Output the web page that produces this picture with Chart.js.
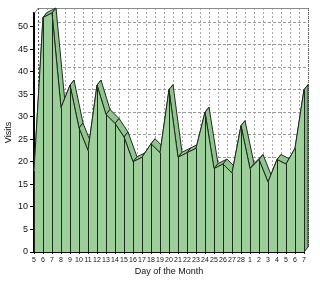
<!DOCTYPE html>
<html>
<head>
<meta charset="utf-8">
<script src="https://cdn.jsdelivr.net/npm/chart.js@4.4.1/dist/chart.umd.min.js"></script>
<style>
  html, body { margin: 0; padding: 0; background: #ffffff; }
  #wrap { width: 320px; height: 284px; }
</style>
</head>
<body>
<div id="wrap"><canvas id="c" width="320" height="284"></canvas></div>
<script>
const categories = ['5','6','7','8','9','10','11','12','13','14','15','16','17','18','19','20','21','22','23','24','25','26','27','28','1','2','3','4','5','6','7'];
const visits = [18, 52, 53, 32, 37, 27.5, 22.5, 37, 30.5, 28.5, 25.5, 20, 21, 24, 22, 36, 21, 22, 23, 31, 18.5, 19.5, 17.5, 28, 18.5, 20.5, 15.5, 20.5, 19.5, 23, 36];
const yTicks = [0, 5, 10, 15, 20, 25, 30, 35, 40, 45, 50];
const yMax = 53;
const xTitle = 'Day of the Month';
const yTitle = 'Visits';

const DX = 4, DY = -5;
const FRONT = '#9dcf9b';
const TOP = '#91c48f';
const EDGE = '#1f2a1f';

const depthPlugin = {
  id: 'depth3d',
  beforeDatasetsDraw(chart) {
    const ctx = chart.ctx;
    const xs = chart.scales.x, ys = chart.scales.y;
    const ca = chart.chartArea;
    const bl = ca.left + DX, br = xs.getPixelForValue(categories.length - 1) + DX;
    const bt = ca.top + DY, bb = ca.bottom + DY;
    ctx.save();
    ctx.lineWidth = 1;
    ctx.strokeStyle = '#a8a8a8';
    ctx.setLineDash([2, 2]);
    for (let i = 1; i < categories.length; i++) {
      const px = Math.round(xs.getPixelForValue(i) + DX) + 0.5;
      ctx.beginPath(); ctx.moveTo(px, bt); ctx.lineTo(px, bb); ctx.stroke();
    }
    ctx.setLineDash([3, 2]);
    ctx.strokeStyle = '#9a9a9a';
    yTicks.forEach(v => {
      if (v === 0) return;
      const py = Math.round(ys.getPixelForValue(v) + DY) + 0.5;
      ctx.beginPath(); ctx.moveTo(bl, py); ctx.lineTo(br, py); ctx.stroke();
    });
    ctx.setLineDash([]);
    ctx.strokeStyle = '#8a8a8a';
    ctx.beginPath(); ctx.moveTo(bl, bt + 0.5); ctx.lineTo(br, bt + 0.5); ctx.stroke();
    ctx.beginPath(); ctx.moveTo(ca.left + 0.5, ca.top); ctx.lineTo(bl + 0.5, bt); ctx.stroke();
    ctx.strokeStyle = '#555';
    ctx.setLineDash([1, 1]);
    ctx.beginPath(); ctx.moveTo(Math.round(br) + 0.5, bt); ctx.lineTo(Math.round(br) + 0.5, bb); ctx.stroke();
    ctx.setLineDash([2, 2]);
    ctx.beginPath(); ctx.moveTo(bl + 0.5, bt); ctx.lineTo(bl + 0.5, bb); ctx.stroke();
    ctx.setLineDash([]);

    const pts = visits.map((v, i) => [xs.getPixelForValue(i), ys.getPixelForValue(v)]);
    ctx.fillStyle = TOP;
    ctx.strokeStyle = EDGE;
    ctx.lineWidth = 1;
    for (let i = 0; i < pts.length - 1; i++) {
      const a = pts[i], b = pts[i + 1];
      ctx.beginPath();
      ctx.moveTo(a[0], a[1]);
      ctx.lineTo(b[0], b[1]);
      ctx.lineTo(b[0] + DX, b[1] + DY);
      ctx.lineTo(a[0] + DX, a[1] + DY);
      ctx.closePath();
      ctx.fill(); ctx.stroke();
    }
    const last = pts[pts.length - 1];
    ctx.fillStyle = '#86b884';
    ctx.beginPath();
    ctx.moveTo(last[0], last[1]);
    ctx.lineTo(last[0], ca.bottom);
    ctx.lineTo(last[0] + DX, ca.bottom + DY);
    ctx.lineTo(last[0] + DX, last[1] + DY);
    ctx.closePath();
    ctx.fill(); ctx.stroke();
    ctx.restore();
  },
  afterDatasetsDraw(chart) {
    const ctx = chart.ctx;
    const xs = chart.scales.x, ys = chart.scales.y;
    const ca = chart.chartArea;
    ctx.save();
    ctx.strokeStyle = EDGE;
    ctx.lineWidth = 1;
    visits.forEach((v, i) => {
      const px = Math.round(xs.getPixelForValue(i)) + 0.5;
      ctx.beginPath(); ctx.moveTo(px, ys.getPixelForValue(v)); ctx.lineTo(px, ca.bottom); ctx.stroke();
    });
    ctx.restore();
  }
};

new Chart(document.getElementById('c'), {
  type: 'line',
  data: {
    labels: categories,
    datasets: [{
      data: visits,
      fill: 'origin',
      backgroundColor: FRONT,
      borderColor: EDGE,
      borderWidth: 1,
      tension: 0,
      pointRadius: 0
    }]
  },
  options: {
    responsive: false,
    animation: false,
    events: [],
    layout: { padding: { top: 13, right: 16, left: 0, bottom: 7 } },
    plugins: { legend: { display: false }, tooltip: { enabled: false } },
    scales: {
      x: {
        type: 'category',
        offset: false,
        z: 1,
        grid: { display: true, drawOnChartArea: false, drawTicks: true, tickLength: 2, color: '#222' },
        border: { display: true, color: '#000', width: 1 },
        ticks: { autoSkip: false, maxRotation: 0, minRotation: 0, padding: 2, color: '#111', font: { family: 'Liberation Sans', size: 7 } },
        title: { display: true, text: xTitle, color: '#111', padding: { top: 1, bottom: 0 }, font: { family: 'Liberation Sans', size: 9 } },
        afterFit(s) { s.height = 25; }
      },
      y: {
        min: 0,
        max: yMax,
        z: 1,
        afterBuildTicks(s) { s.ticks = yTicks.map(v => ({ value: v })); },
        grid: { display: true, drawOnChartArea: false, drawTicks: true, tickLength: 4, color: '#000' },
        border: { display: true, color: '#000', width: 2 },
        ticks: { padding: 2, color: '#111', font: { family: 'Liberation Sans', size: 9 } },
        title: { display: true, text: yTitle, color: '#111', padding: 3, font: { family: 'Liberation Sans', size: 9 } },
        afterFit(s) { s.width = 34; }
      }
    }
  },
  plugins: [depthPlugin]
});
</script>
</body>
</html>
